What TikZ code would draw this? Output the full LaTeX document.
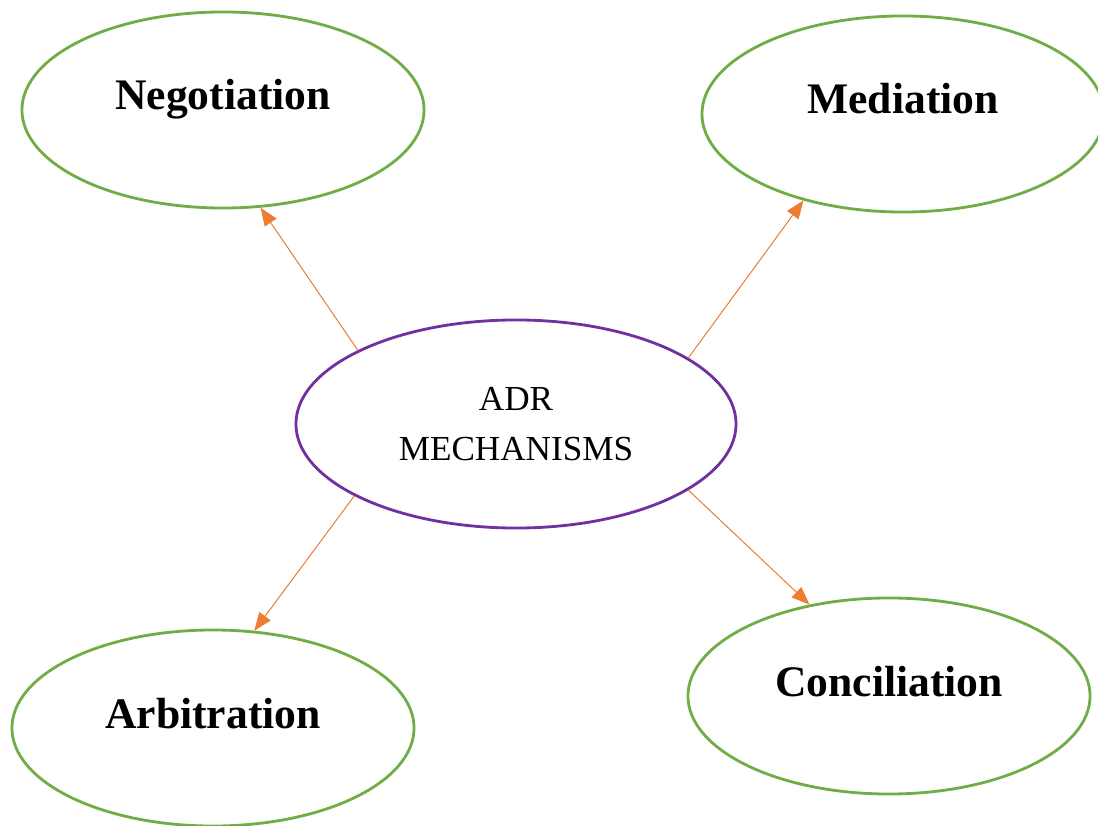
\documentclass[tikz,border=0pt]{standalone}
\usepackage{fontspec}
\setmainfont{Liberation Serif}
\usetikzlibrary{shapes.geometric}
\usetikzlibrary{arrows.meta}

\definecolor{leafgreen}{RGB}{112,173,71}
\definecolor{adrpurple}{RGB}{112,48,160}
\definecolor{linkorange}{RGB}{237,125,49}

\begin{document}
\begin{tikzpicture}[x=0.025cm, y=-0.025cm,
  method/.style={ellipse, draw=leafgreen, line width=2pt, inner sep=0pt,
    minimum width=10.05cm, minimum height=4.9cm, text height=0.3cm, text depth=0.3cm,
    font=\fontsize{31}{33}\selectfont\bfseries},
  hub/.style={ellipse, draw=adrpurple, line width=2pt, inner sep=0pt,
    minimum width=11cm, minimum height=5.2cm, align=center,
    font=\fontsize{25}{35}\selectfont},
  link/.style={-{Triangle[length=0.45cm, width=0.35cm]}, draw=linkorange, fill=linkorange, line width=0.7pt}]

\useasboundingbox (0,0) rectangle (1098,826);

\node[hub] (adr) at (516,424) {ADR\\MECHANISMS};

\node[method] (neg) at (223,110) {Negotiation};
\node[method] (med) at (903,114) {Mediation};
\node[method] (arb) at (213,728) {Arbitration};
\node[method] (con) at (889,696) {Conciliation};

%arrows out of the hub
\draw[link] (adr.155.6) -- (neg.291.7);
\draw[link] (adr.21.5) -- (med.221.3);
\draw[link] (adr.204.1) -- (arb.67.2);
\draw[link] (adr.339.2) -- (con.131.3);

\end{tikzpicture}
\end{document}
